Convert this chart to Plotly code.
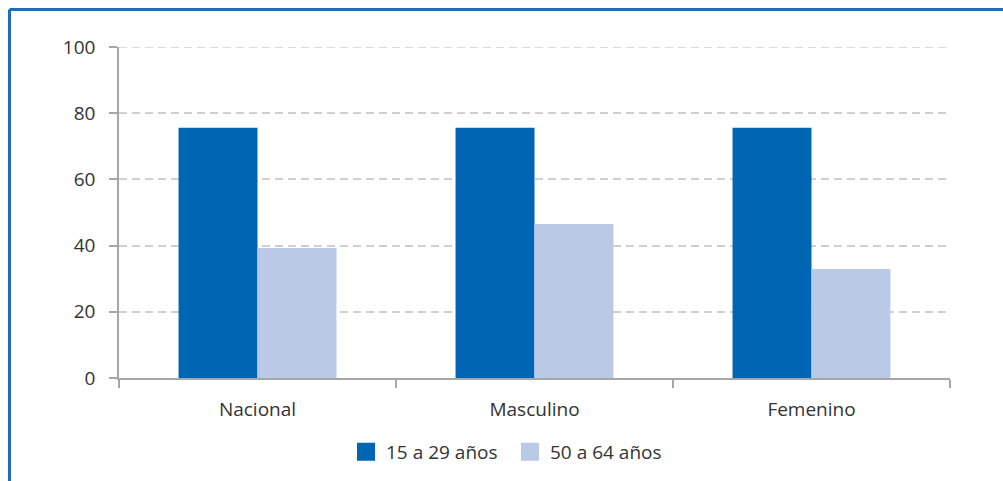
import plotly.graph_objects as go

categories = ["Nacional", "Masculino", "Femenino"]
series_names = ["15 a 29 años", "50 a 64 años"]
values_15_29 = [75.6, 75.6, 75.6]
values_50_64 = [39.3, 46.5, 32.9]
y_ticks = [0, 20, 40, 60, 80, 100]

colors = ["#0066b3", "#b9c9e6"]
W, H = 1003, 481
L, R, T, B = 119, 53, 47, 103
pw, ph = W - L - R, H - T - B

fig = go.Figure()
for name, vals, col in zip(series_names, [values_15_29, values_50_64], colors):
    fig.add_trace(go.Bar(x=categories, y=vals, name=name, marker_color=col,
                         marker_line_width=0, showlegend=False))
for name, col in zip(series_names, colors):
    fig.add_trace(go.Scatter(x=[None], y=[None], mode="markers", name=name,
                             marker=dict(symbol="square", size=16, color=col,
                                         line=dict(color=col, width=2))))

def px_x(p):
    return (p - L) / pw

def px_y(p):
    return (H - B - p) / ph

fig.add_shape(type="line", xref="paper", yref="paper",
              x0=px_x(9.5), x1=px_x(1010), y0=px_y(9.5), y1=px_y(9.5),
              line=dict(color="#1a6db8", width=3))
fig.add_shape(type="line", xref="paper", yref="paper",
              x0=px_x(9.5), x1=px_x(9.5), y0=px_y(9.5), y1=px_y(490),
              line=dict(color="#1a6db8", width=3))
# top gridline at the maximum tick (plotly omits the grid at the range edge)
fig.add_shape(type="line", xref="paper", yref="y", layer="below",
              x0=0, x1=1, y0=y_ticks[-1], y1=y_ticks[-1],
              line=dict(color="#d0d0d0", width=1.5, dash="8px,5px"))

fig.update_layout(
    width=W, height=H,
    margin=dict(l=L, r=R, t=T, b=B, autoexpand=False),
    paper_bgcolor="white", plot_bgcolor="white",
    barmode="group", bargap=0.43, bargroupgap=0,
    font=dict(family="Open Sans", size=19, color="#333333"),
    legend=dict(orientation="h", x=px_x(510), xanchor="center",
                y=px_y(452), yanchor="middle", font=dict(size=19),
                itemwidth=30, entrywidth=119),
)
fig.update_xaxes(showline=True, linecolor="#a6a6a6", linewidth=1.5,
                 ticks="outside", ticklen=8, tickcolor="#a6a6a6", tickwidth=1.5,
                 tickson="boundaries", showgrid=False, ticklabelstandoff=13,
                 fixedrange=True)
fig.update_yaxes(range=[0, 100], tickvals=y_ticks, showline=True,
                 linecolor="#a6a6a6", linewidth=1.5,
                 ticks="outside", ticklen=8, tickcolor="#a6a6a6", tickwidth=1.5,
                 showgrid=True, gridcolor="#d0d0d0", gridwidth=1.5,
                 griddash="8px,5px", zeroline=False, ticklabelstandoff=10,
                 fixedrange=True)

fig.write_html("out.html", config={"displayModeBar": False},
               post_script="document.body.style.margin='0';document.body.style.padding='0';")
